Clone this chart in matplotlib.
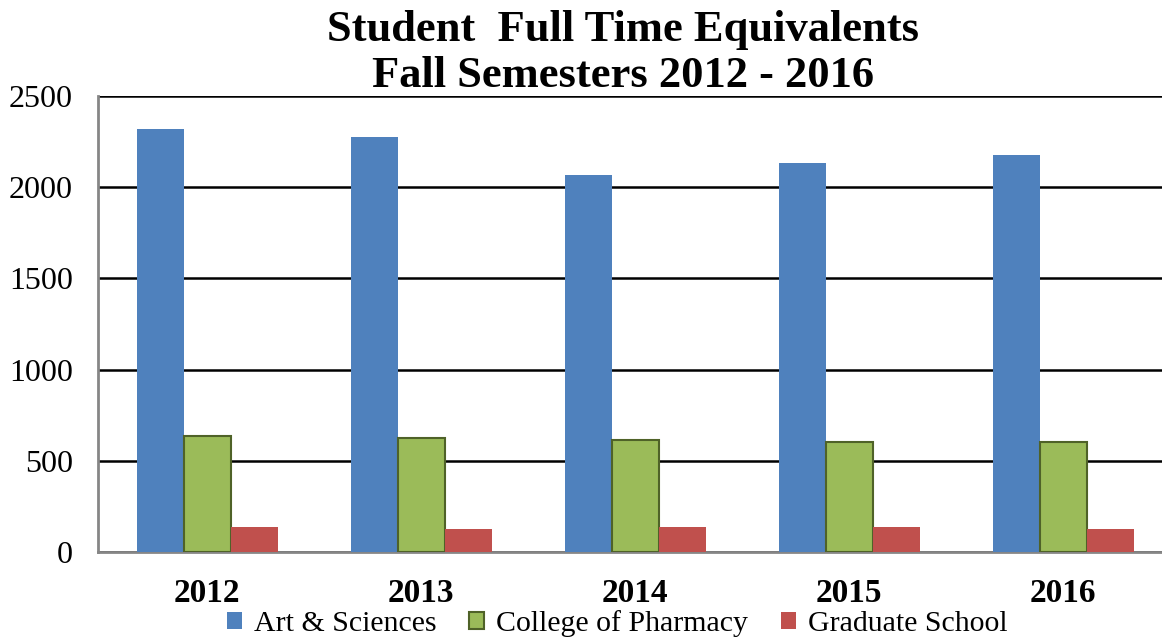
import numpy as np
import matplotlib
matplotlib.use("Agg")
import matplotlib.pyplot as plt

plt.rcParams['font.family'] = ['Liberation Serif', 'DejaVu Serif']

years = ["2012", "2013", "2014", "2015", "2016"]
arts_sciences = [2318, 2274, 2067, 2131, 2176]
pharmacy = [638, 626, 614, 605, 603]
graduate = [135, 124, 135, 135, 126]

series = [
    ("Art & Sciences", arts_sciences, "#4F81BD", "#4F81BD", 0.0),
    ("College of Pharmacy", pharmacy, "#9BBB59", "#4F6228", 1.5),
    ("Graduate School", graduate, "#C0504D", "#C0504D", 0.0),
]

fig = plt.figure(figsize=(11.62, 6.38), dpi=100)
# plot area runs past the right edge of the picture, as in the original
ax = fig.add_axes([98 / 1162, 86 / 638, 1070 / 1162, 456 / 638])

x = np.arange(len(years))
width = 0.22
for i, (name, vals, color, edge, lw) in enumerate(series):
    ax.bar(x + (i - 1) * width, vals, width, color=color, edgecolor=edge,
           linewidth=lw, label=name, zorder=3)

ax.set_xlim(-0.51, len(years) - 0.51)
ax.set_ylim(0, 2500)
ax.set_yticks(np.arange(0, 2501, 500))
ax.yaxis.grid(True, color="black", linewidth=1.8, zorder=0)
ax.set_axisbelow(True)

ax.set_xticks(x)
ax.set_xticklabels(years, fontsize=24, fontweight="bold")
ax.tick_params(axis="x", length=0, pad=19)
ax.tick_params(axis="y", length=0, pad=18, labelsize=23)

for side in ["top", "right"]:
    ax.spines[side].set_visible(False)
for side in ["left", "bottom"]:
    ax.spines[side].set_color("#868686")
    ax.spines[side].set_linewidth(2)

fig.text(0.536, 0.985, "Student  Full Time Equivalents\nFall Semesters 2012 - 2016",
         ha="center", va="top", fontsize=32, fontweight="bold", linespacing=1.22)

fig.legend(loc="center", bbox_to_anchor=(0.531, 0.023), ncol=3, frameon=False,
           fontsize=21.5, handlelength=0.5, handleheight=0.5, handletextpad=0.4,
           columnspacing=1.1, borderaxespad=0)

fig.savefig("out.png", dpi=100)
